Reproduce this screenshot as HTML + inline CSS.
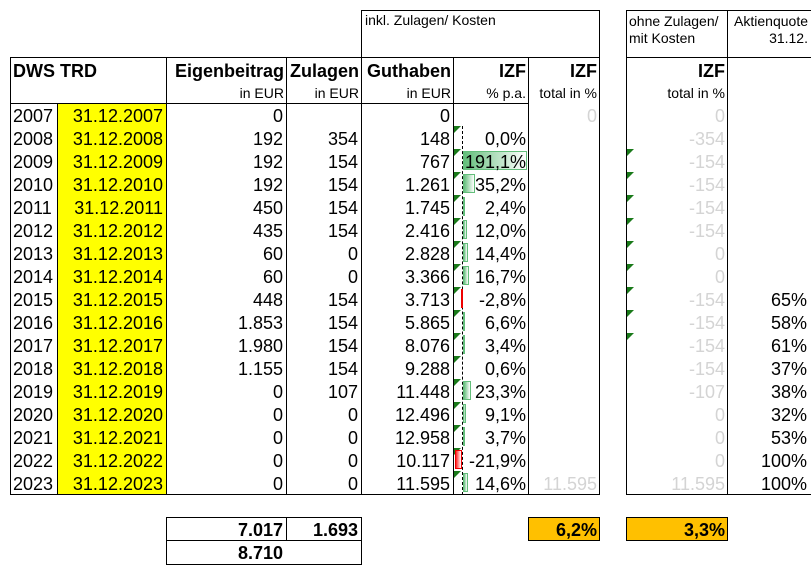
<!DOCTYPE html>
<html><head><meta charset="utf-8"><style>
body{margin:0;width:811px;height:565px;background:#fff;position:relative;overflow:hidden;font-family:"Liberation Sans",Arial,sans-serif;}
.a{position:absolute;box-sizing:border-box;white-space:nowrap;}
.t{font-size:18px;line-height:26px;}
.s{font-size:14px;line-height:25px;}
.r{text-align:right;}
.b{font-weight:bold;}
.g{color:#d4d4d4;}
.bx{position:absolute;box-sizing:border-box;border:1px solid #000;}
.tri{position:absolute;width:0;height:0;border-top:7px solid #1a7a1a;border-right:7px solid transparent;}
</style></head><body>
<div id="root"></div>
<script>
const years=[2007,2008,2009,2010,2011,2012,2013,2014,2015,2016,2017,2018,2019,2020,2021,2022,2023];
const eigen=["0","192","192","192","450","435","60","60","448","1.853","1.980","1.155","0","0","0","0","0"];
const zulagen=["","354","154","154","154","154","0","0","154","154","154","154","107","0","0","0","0"];
const guthaben=["0","148","767","1.261","1.745","2.416","2.828","3.366","3.713","5.865","8.076","9.288","11.448","12.496","12.958","10.117","11.595"];
const izfPa=[null,0.0,191.1,35.2,2.4,12.0,14.4,16.7,-2.8,6.6,3.4,0.6,23.3,9.1,3.7,-21.9,14.6];
const totalIncl=["0","","","","","","","","","","","","","","","","11.595"];
const totalOhne=["0","-354","-154","-154","-154","-154","0","0","-154","-154","-154","-154","-107","0","0","0","11.595"];
const aktien=["","","","","","","","","65%","58%","61%","37%","38%","32%","53%","100%","100%"];
const sums=["7.017","1.693","8.710","6,2%","3,3%"];

const root=document.getElementById('root');
function el(cls,x,y,w,h,txt,name,style){
  const d=document.createElement('div');
  d.className=cls;
  d.style.left=x+'px';d.style.top=y+'px';d.style.width=w+'px';d.style.height=h+'px';
  if(style)d.style.cssText+=style;
  if(txt!==undefined&&txt!==null)d.textContent=txt;
  
  
  root.appendChild(d);return d;
}
const fmt=v=>v.toFixed(1).replace('.',',')+'%';
const R0=103,RH=23;
const axisX=462,scale=64/191.1;
function xb(v){return axisX+v*scale;}

el('bx',361,10,239,48,null,'incl-header-box');
el('bx',626,10,102,48,null,'ohne-header-box');
el('bx',727,10,85,48,null,'aktien-header-box');
el('bx',10,57,590,438,null,'main-table-box');
el('bx',10,57,157,47,null,'title-header-cell');
el('bx',166,57,121,47,null,'eigen-header-cell');
el('bx',286,57,76,47,null,'zulagen-header-cell');
el('bx',361,57,93,47,null,'guthaben-header-cell');
el('bx',453,57,76,47,null,'izfpa-header-cell');
el('bx',528,57,72,438,null,'total-column-box');
el('bx',166,103,121,392,null,'eigen-column-box');
el('bx',361,103,93,392,null,'guthaben-column-box');
el('bx',453,103,76,392,null,'izfpa-column-box');
el('bx',626,57,186,438,null,'right-table-box');
el('bx',626,57,102,438,null,'ohne-column-box');
el('bx',57,103,110,392,null,'date-column-box','background:#ffff00;');
el('bx',166,517,121,24,null,'sum-eigen-box');
el('bx',286,517,76,24,null,'sum-zulagen-box');
el('bx',166,540,196,25,null,'sum-total-box');
el('bx',528,517,72,24,null,'sum-izf-incl-box','background:#ffc000;');
el('bx',626,517,102,24,null,'sum-izf-ohne-box','background:#ffc000;');
el('a',axisX,126,0,369,null,'bar-axis','border-left:1px dashed #000;');

el('a s',365,8,200,23,'inkl. Zulagen/ Kosten','incl-header-label');
el('a s',629,13,100,16,'ohne Zulagen/','ohne-header-label','line-height:17px;');
el('a s',629,30,100,16,'mit Kosten','ohne-header-label-2','line-height:17px;');
el('a s r',727,13,81,16,'Aktienquote','aktien-header-label','line-height:17px;');
el('a s r',727,30,81,16,'31.12.','aktien-header-date','line-height:17px;');
el('a t b',13,58,150,23,'DWS TRD','fund-title');
el('a t b r',166,58,118,23,'Eigenbeitrag','eigen-header');
el('a t b r',286,58,73,23,'Zulagen','zulagen-header');
el('a t b r',361,58,90,23,'Guthaben','guthaben-header');
el('a t b r',453,58,73,23,'IZF','izfpa-header');
el('a t b r',528,58,69,23,'IZF','total-incl-header');
el('a t b r',626,58,99,23,'IZF','total-ohne-header');
el('a s r',166,81,118,23,'in EUR','eigen-unit');
el('a s r',286,81,73,23,'in EUR','zulagen-unit');
el('a s r',361,81,90,23,'in EUR','guthaben-unit');
el('a s r',453,81,73,23,'% p.a.','izfpa-unit');
el('a s r',528,81,69,23,'total in %','total-incl-unit');
el('a s r',626,81,99,23,'total in %','total-ohne-unit');

years.forEach((y,i)=>{
  const top=R0+i*RH;
  el('a t',13,top,45,RH,String(y),'year-'+y);
  el('a t r',57,top,106,RH,'31.12.'+y,'date-'+y);
  el('a t r',166,top,117,RH,eigen[i],'eigen-'+y);
  el('a t r',286,top,72,RH,zulagen[i],'zulagen-'+y);
  el('a t r',361,top,89,RH,guthaben[i],'guthaben-'+y);
  const v=izfPa[i];
  if(v!==null){
    el('tri',454,top,0,0,null,'comment-marker-'+y,'width:0;height:0;');
    const x0=Math.min(xb(0),xb(v)),w=Math.abs(xb(v)-xb(0));
    if(w>0.5){
      const neg=v<0;
      el('a',x0+(neg?0:1),top+2,Math.max(w,2),RH-4,null,'bar-'+y,
        neg?'background:linear-gradient(to left,#fff,#f22);border:1px solid #e00;':'background:linear-gradient(to right,#63be7b,#fff);border:1px solid #63be7b;');
    }
    el('a t r',453,top,73,RH,fmt(v),'izfpa-'+y);
  }
  el('a t r g',528,top,69,RH,totalIncl[i],'total-incl-'+y);
  el('a t r g',626,top,99,RH,totalOhne[i],'total-ohne-'+y);
  if(i>=2&&i<=10) el('tri',627,top,0,0,null,'ohne-comment-marker-'+y,'width:0;height:0;');
  el('a t r',727,top,80,RH,aktien[i],'aktien-'+y);
});
el('a t b r',166,517,117,23,sums[0],'sum-eigen');
el('a t b r',286,517,72,23,sums[1],'sum-zulagen');
el('a t b r',166,540,117,23,sums[2],'sum-total');
el('a t b r',528,517,69,23,sums[3],'izf-incl-total');
el('a t b r',626,517,99,23,sums[4],'izf-ohne-total');
</script>
</body></html>
